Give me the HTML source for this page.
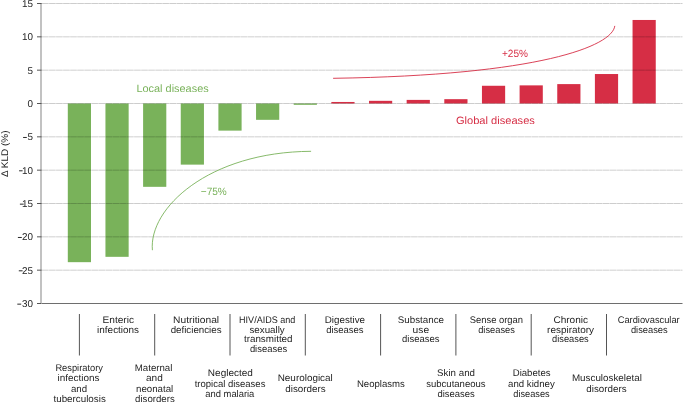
<!DOCTYPE html>
<html><head><meta charset="utf-8"><style>
html,body{margin:0;padding:0;background:#fff;width:685px;height:403px;overflow:hidden}
svg{display:block;will-change:transform}
text{font-family:"Liberation Sans",sans-serif;text-rendering:geometricPrecision}
</style></head><body>
<svg width="685" height="403" viewBox="0 0 685 403">
<rect x="67.80" y="103.50" width="23.2" height="158.67" fill="#79b25a"/>
<rect x="105.45" y="103.50" width="23.2" height="153.33" fill="#79b25a"/>
<rect x="143.10" y="103.50" width="23.2" height="83.33" fill="#79b25a"/>
<rect x="180.75" y="103.50" width="23.2" height="61.13" fill="#79b25a"/>
<rect x="218.40" y="103.50" width="23.2" height="27.13" fill="#79b25a"/>
<rect x="256.05" y="103.50" width="23.2" height="16.33" fill="#79b25a"/>
<rect x="293.70" y="103.50" width="23.2" height="1.33" fill="#79b25a"/>
<rect x="331.35" y="101.97" width="23.2" height="1.53" fill="#d62e45"/>
<rect x="369.00" y="100.83" width="23.2" height="2.67" fill="#d62e45"/>
<rect x="406.65" y="99.90" width="23.2" height="3.60" fill="#d62e45"/>
<rect x="444.30" y="99.17" width="23.2" height="4.33" fill="#d62e45"/>
<rect x="481.95" y="85.77" width="23.2" height="17.73" fill="#d62e45"/>
<rect x="519.60" y="85.37" width="23.2" height="18.13" fill="#d62e45"/>
<rect x="557.25" y="84.10" width="23.2" height="19.40" fill="#d62e45"/>
<rect x="594.90" y="74.03" width="23.2" height="29.47" fill="#d62e45"/>
<rect x="632.55" y="19.97" width="23.2" height="83.53" fill="#d62e45"/>
<line x1="42" y1="3.50" x2="682.5" y2="3.50" stroke="#000" stroke-opacity="0.12" stroke-width="1"/>
<line x1="42" y1="3.50" x2="682.5" y2="3.50" stroke="#000" stroke-opacity="0.085" stroke-width="1" stroke-dasharray="6.2 0.9"/>
<line x1="42" y1="36.83" x2="682.5" y2="36.83" stroke="#000" stroke-opacity="0.12" stroke-width="1"/>
<line x1="42" y1="36.83" x2="682.5" y2="36.83" stroke="#000" stroke-opacity="0.085" stroke-width="1" stroke-dasharray="6.2 0.9"/>
<line x1="42" y1="70.17" x2="682.5" y2="70.17" stroke="#000" stroke-opacity="0.12" stroke-width="1"/>
<line x1="42" y1="70.17" x2="682.5" y2="70.17" stroke="#000" stroke-opacity="0.085" stroke-width="1" stroke-dasharray="6.2 0.9"/>
<line x1="42" y1="103.50" x2="682.5" y2="103.50" stroke="#000" stroke-opacity="0.12" stroke-width="1"/>
<line x1="42" y1="103.50" x2="682.5" y2="103.50" stroke="#000" stroke-opacity="0.085" stroke-width="1" stroke-dasharray="6.2 0.9"/>
<line x1="42" y1="136.83" x2="682.5" y2="136.83" stroke="#000" stroke-opacity="0.12" stroke-width="1"/>
<line x1="42" y1="136.83" x2="682.5" y2="136.83" stroke="#000" stroke-opacity="0.085" stroke-width="1" stroke-dasharray="6.2 0.9"/>
<line x1="42" y1="170.16" x2="682.5" y2="170.16" stroke="#000" stroke-opacity="0.12" stroke-width="1"/>
<line x1="42" y1="170.16" x2="682.5" y2="170.16" stroke="#000" stroke-opacity="0.085" stroke-width="1" stroke-dasharray="6.2 0.9"/>
<line x1="42" y1="203.50" x2="682.5" y2="203.50" stroke="#000" stroke-opacity="0.12" stroke-width="1"/>
<line x1="42" y1="203.50" x2="682.5" y2="203.50" stroke="#000" stroke-opacity="0.085" stroke-width="1" stroke-dasharray="6.2 0.9"/>
<line x1="42" y1="236.83" x2="682.5" y2="236.83" stroke="#000" stroke-opacity="0.12" stroke-width="1"/>
<line x1="42" y1="236.83" x2="682.5" y2="236.83" stroke="#000" stroke-opacity="0.085" stroke-width="1" stroke-dasharray="6.2 0.9"/>
<line x1="42" y1="270.16" x2="682.5" y2="270.16" stroke="#000" stroke-opacity="0.12" stroke-width="1"/>
<line x1="42" y1="270.16" x2="682.5" y2="270.16" stroke="#000" stroke-opacity="0.085" stroke-width="1" stroke-dasharray="6.2 0.9"/>
<line x1="42" y1="303.45" x2="682.5" y2="303.45" stroke="#6e6e6e" stroke-width="1.05"/>
<line x1="41" y1="3" x2="41" y2="303" stroke="#c2c2c2" stroke-width="2"/>
<text x="33.1" y="6.90" font-size="9.9" fill="#1f1f1f" text-anchor="end">15</text>
<text x="33.1" y="40.23" font-size="9.9" fill="#1f1f1f" text-anchor="end">10</text>
<text x="33.1" y="73.57" font-size="9.9" fill="#1f1f1f" text-anchor="end">5</text>
<text x="33.1" y="106.90" font-size="9.9" fill="#1f1f1f" text-anchor="end">0</text>
<text x="33.1" y="140.23" font-size="9.9" fill="#1f1f1f" text-anchor="end">5</text>
<line x1="23.1" y1="137.48" x2="26.8" y2="137.48" stroke="#1f1f1f" stroke-width="0.95"/>
<text x="33.1" y="173.56" font-size="9.9" fill="#1f1f1f" text-anchor="end">10</text>
<line x1="19.1" y1="170.81" x2="22.6" y2="170.81" stroke="#1f1f1f" stroke-width="0.95"/>
<text x="33.1" y="206.90" font-size="9.9" fill="#1f1f1f" text-anchor="end">15</text>
<line x1="19.9" y1="204.15" x2="23.7" y2="204.15" stroke="#1f1f1f" stroke-width="0.95"/>
<text x="33.1" y="240.23" font-size="9.9" fill="#1f1f1f" text-anchor="end">20</text>
<line x1="17.9" y1="237.48" x2="21.8" y2="237.48" stroke="#1f1f1f" stroke-width="0.95"/>
<text x="33.1" y="273.56" font-size="9.9" fill="#1f1f1f" text-anchor="end">25</text>
<line x1="18.8" y1="270.81" x2="22.6" y2="270.81" stroke="#1f1f1f" stroke-width="0.95"/>
<text x="33.1" y="306.90" font-size="9.9" fill="#1f1f1f" text-anchor="end">30</text>
<line x1="17.3" y1="304.15" x2="21.2" y2="304.15" stroke="#1f1f1f" stroke-width="0.95"/>
<line x1="37" y1="3.50" x2="41.6" y2="3.50" stroke="#555" stroke-width="1"/>
<line x1="37" y1="36.83" x2="41.6" y2="36.83" stroke="#555" stroke-width="1"/>
<line x1="37" y1="70.17" x2="41.6" y2="70.17" stroke="#555" stroke-width="1"/>
<line x1="37" y1="103.50" x2="41.6" y2="103.50" stroke="#555" stroke-width="1"/>
<line x1="37" y1="136.83" x2="41.6" y2="136.83" stroke="#555" stroke-width="1"/>
<line x1="37" y1="170.16" x2="41.6" y2="170.16" stroke="#555" stroke-width="1"/>
<line x1="37" y1="203.50" x2="41.6" y2="203.50" stroke="#555" stroke-width="1"/>
<line x1="37" y1="236.83" x2="41.6" y2="236.83" stroke="#555" stroke-width="1"/>
<line x1="37" y1="270.16" x2="41.6" y2="270.16" stroke="#555" stroke-width="1"/>
<line x1="37" y1="303.50" x2="41.6" y2="303.50" stroke="#555" stroke-width="1"/>
<text transform="translate(8,153.75) rotate(-90)" font-size="9.6" fill="#1f1f1f" text-anchor="middle" textLength="46.6" lengthAdjust="spacingAndGlyphs">Δ KLD (%)</text>
<line x1="79.40" y1="314" x2="79.40" y2="355.5" stroke="#555" stroke-width="1"/>
<line x1="154.70" y1="314" x2="154.70" y2="355.5" stroke="#555" stroke-width="1"/>
<line x1="230.00" y1="314" x2="230.00" y2="355.5" stroke="#555" stroke-width="1"/>
<line x1="305.30" y1="314" x2="305.30" y2="355.5" stroke="#555" stroke-width="1"/>
<line x1="380.60" y1="314" x2="380.60" y2="355.5" stroke="#555" stroke-width="1"/>
<line x1="455.90" y1="314" x2="455.90" y2="355.5" stroke="#555" stroke-width="1"/>
<line x1="531.20" y1="314" x2="531.20" y2="355.5" stroke="#555" stroke-width="1"/>
<line x1="606.50" y1="314" x2="606.50" y2="355.5" stroke="#555" stroke-width="1"/>
<text x="118.25" y="322.80" font-size="9.6" fill="#1f1f1f" text-anchor="middle" textLength="31.49" lengthAdjust="spacingAndGlyphs">Enteric</text>
<text x="118.10" y="332.60" font-size="9.6" fill="#1f1f1f" text-anchor="middle" textLength="41.97" lengthAdjust="spacingAndGlyphs">infections</text>
<text x="196.15" y="322.80" font-size="9.6" fill="#1f1f1f" text-anchor="middle" textLength="46.02" lengthAdjust="spacingAndGlyphs">Nutritional</text>
<text x="196.10" y="332.60" font-size="9.6" fill="#1f1f1f" text-anchor="middle" textLength="50.95" lengthAdjust="spacingAndGlyphs">deficiencies</text>
<text x="267.20" y="322.80" font-size="9.6" fill="#1f1f1f" text-anchor="middle" textLength="56.26" lengthAdjust="spacingAndGlyphs">HIV/AIDS and</text>
<text x="267.10" y="332.60" font-size="9.6" fill="#1f1f1f" text-anchor="middle" textLength="35.29" lengthAdjust="spacingAndGlyphs">sexually</text>
<text x="268.25" y="342.40" font-size="9.6" fill="#1f1f1f" text-anchor="middle" textLength="48.59" lengthAdjust="spacingAndGlyphs">transmitted</text>
<text x="268.50" y="352.20" font-size="9.6" fill="#1f1f1f" text-anchor="middle" textLength="37.25" lengthAdjust="spacingAndGlyphs">diseases</text>
<text x="344.90" y="322.80" font-size="9.6" fill="#1f1f1f" text-anchor="middle" textLength="40.31" lengthAdjust="spacingAndGlyphs">Digestive</text>
<text x="344.90" y="332.60" font-size="9.6" fill="#1f1f1f" text-anchor="middle" textLength="37.46" lengthAdjust="spacingAndGlyphs">diseases</text>
<text x="420.85" y="322.80" font-size="9.6" fill="#1f1f1f" text-anchor="middle" textLength="46.28" lengthAdjust="spacingAndGlyphs">Substance</text>
<text x="420.85" y="332.60" font-size="9.6" fill="#1f1f1f" text-anchor="middle" textLength="16.51" lengthAdjust="spacingAndGlyphs">use</text>
<text x="420.80" y="342.40" font-size="9.6" fill="#1f1f1f" text-anchor="middle" textLength="37.46" lengthAdjust="spacingAndGlyphs">diseases</text>
<text x="496.40" y="322.80" font-size="9.6" fill="#1f1f1f" text-anchor="middle" textLength="53.37" lengthAdjust="spacingAndGlyphs">Sense organ</text>
<text x="496.55" y="332.60" font-size="9.6" fill="#1f1f1f" text-anchor="middle" textLength="36.73" lengthAdjust="spacingAndGlyphs">diseases</text>
<text x="570.75" y="322.80" font-size="9.6" fill="#1f1f1f" text-anchor="middle" textLength="34.64" lengthAdjust="spacingAndGlyphs">Chronic</text>
<text x="570.60" y="332.60" font-size="9.6" fill="#1f1f1f" text-anchor="middle" textLength="47.00" lengthAdjust="spacingAndGlyphs">respiratory</text>
<text x="570.40" y="342.40" font-size="9.6" fill="#1f1f1f" text-anchor="middle" textLength="36.63" lengthAdjust="spacingAndGlyphs">diseases</text>
<text x="648.70" y="322.80" font-size="9.6" fill="#1f1f1f" text-anchor="middle" textLength="61.98" lengthAdjust="spacingAndGlyphs">Cardiovascular</text>
<text x="649.30" y="332.60" font-size="9.6" fill="#1f1f1f" text-anchor="middle" textLength="36.83" lengthAdjust="spacingAndGlyphs">diseases</text>
<text x="79.20" y="371.15" font-size="9.6" fill="#1f1f1f" text-anchor="middle" textLength="47.64" lengthAdjust="spacingAndGlyphs">Respiratory</text>
<text x="78.45" y="381.45" font-size="9.6" fill="#1f1f1f" text-anchor="middle" textLength="41.87" lengthAdjust="spacingAndGlyphs">infections</text>
<text x="79.05" y="391.75" font-size="9.6" fill="#1f1f1f" text-anchor="middle" textLength="16.13" lengthAdjust="spacingAndGlyphs">and</text>
<text x="79.65" y="402.05" font-size="9.6" fill="#1f1f1f" text-anchor="middle" textLength="52.32" lengthAdjust="spacingAndGlyphs">tuberculosis</text>
<text x="153.60" y="371.15" font-size="9.6" fill="#1f1f1f" text-anchor="middle" textLength="37.54" lengthAdjust="spacingAndGlyphs">Maternal</text>
<text x="154.35" y="381.45" font-size="9.6" fill="#1f1f1f" text-anchor="middle" textLength="16.79" lengthAdjust="spacingAndGlyphs">and</text>
<text x="154.60" y="391.75" font-size="9.6" fill="#1f1f1f" text-anchor="middle" textLength="37.23" lengthAdjust="spacingAndGlyphs">neonatal</text>
<text x="154.90" y="402.05" font-size="9.6" fill="#1f1f1f" text-anchor="middle" textLength="39.67" lengthAdjust="spacingAndGlyphs">disorders</text>
<text x="230.40" y="376.30" font-size="9.6" fill="#1f1f1f" text-anchor="middle" textLength="45.08" lengthAdjust="spacingAndGlyphs">Neglected</text>
<text x="230.05" y="386.60" font-size="9.6" fill="#1f1f1f" text-anchor="middle" textLength="70.76" lengthAdjust="spacingAndGlyphs">tropical diseases</text>
<text x="229.85" y="396.90" font-size="9.6" fill="#1f1f1f" text-anchor="middle" textLength="49.02" lengthAdjust="spacingAndGlyphs">and malaria</text>
<text x="305.25" y="381.45" font-size="9.6" fill="#1f1f1f" text-anchor="middle" textLength="55.09" lengthAdjust="spacingAndGlyphs">Neurological</text>
<text x="305.50" y="391.75" font-size="9.6" fill="#1f1f1f" text-anchor="middle" textLength="40.50" lengthAdjust="spacingAndGlyphs">disorders</text>
<text x="380.85" y="386.60" font-size="9.6" fill="#1f1f1f" text-anchor="middle" textLength="47.90" lengthAdjust="spacingAndGlyphs">Neoplasms</text>
<text x="456.05" y="376.30" font-size="9.6" fill="#1f1f1f" text-anchor="middle" textLength="37.87" lengthAdjust="spacingAndGlyphs">Skin and</text>
<text x="455.90" y="386.60" font-size="9.6" fill="#1f1f1f" text-anchor="middle" textLength="59.35" lengthAdjust="spacingAndGlyphs">subcutaneous</text>
<text x="456.05" y="396.90" font-size="9.6" fill="#1f1f1f" text-anchor="middle" textLength="37.35" lengthAdjust="spacingAndGlyphs">diseases</text>
<text x="531.65" y="376.30" font-size="9.6" fill="#1f1f1f" text-anchor="middle" textLength="37.77" lengthAdjust="spacingAndGlyphs">Diabetes</text>
<text x="531.40" y="386.60" font-size="9.6" fill="#1f1f1f" text-anchor="middle" textLength="46.61" lengthAdjust="spacingAndGlyphs">and kidney</text>
<text x="531.50" y="396.90" font-size="9.6" fill="#1f1f1f" text-anchor="middle" textLength="36.42" lengthAdjust="spacingAndGlyphs">diseases</text>
<text x="606.90" y="381.45" font-size="9.6" fill="#1f1f1f" text-anchor="middle" textLength="69.91" lengthAdjust="spacingAndGlyphs">Musculoskeletal</text>
<text x="606.50" y="391.75" font-size="9.6" fill="#1f1f1f" text-anchor="middle" textLength="40.29" lengthAdjust="spacingAndGlyphs">disorders</text>
<text x="136.4" y="92.1" font-size="10.6" fill="#79b25a" textLength="72.3" lengthAdjust="spacingAndGlyphs">Local diseases</text>
<text x="455.9" y="124" font-size="10.6" fill="#d62e45" textLength="79" lengthAdjust="spacingAndGlyphs">Global diseases</text>
<text x="200.8" y="194.7" font-size="10.6" fill="#79b25a" textLength="26" lengthAdjust="spacingAndGlyphs">−75%</text>
<text x="502.0" y="57" font-size="10.6" fill="#d62e45" textLength="26" lengthAdjust="spacingAndGlyphs">+25%</text>
<path d="M152.4,250.2 C148.6,208.4 208.3,151.9 311.1,151.3" fill="none" stroke="#79b25a" stroke-width="0.9"/>
<path d="M333.1,78.3 C539.9,75.3 612.3,46.1 614.8,25.9" fill="none" stroke="#d62e45" stroke-width="0.9"/>
</svg></body></html>
